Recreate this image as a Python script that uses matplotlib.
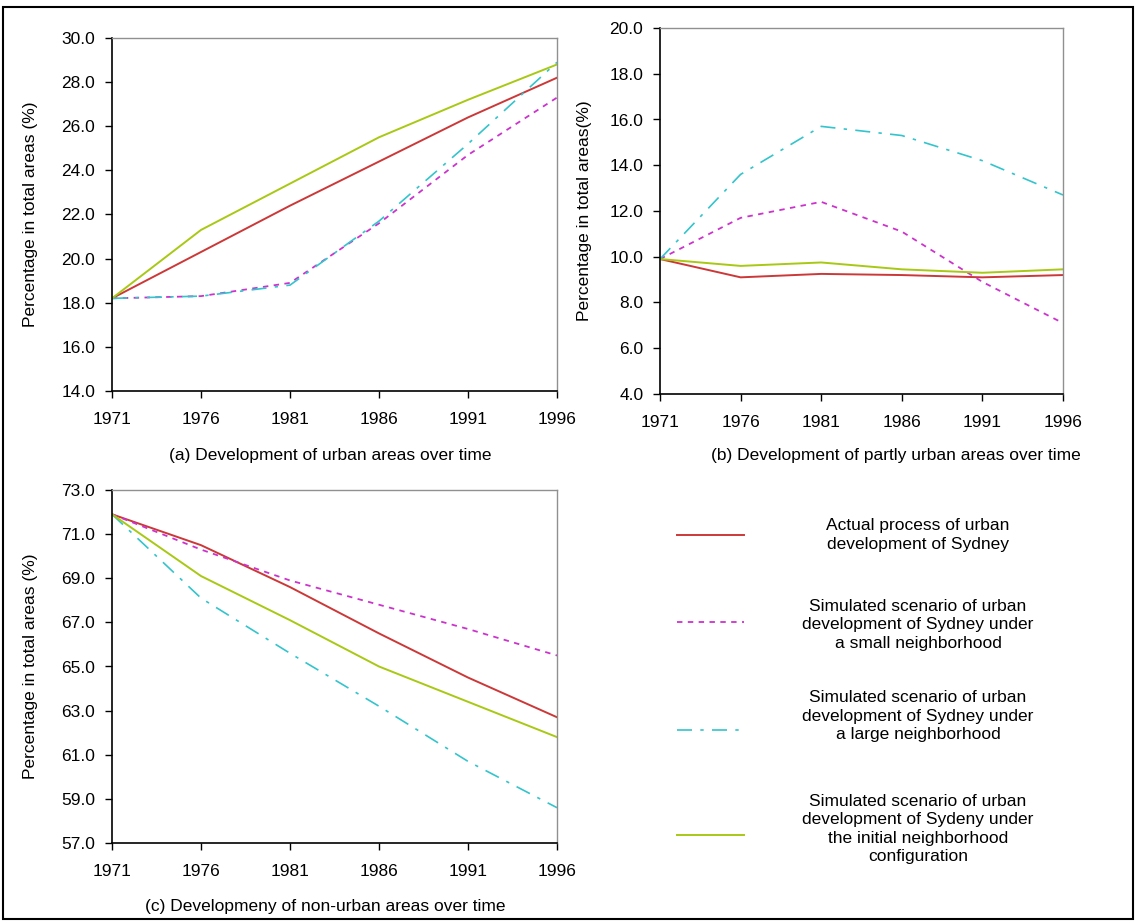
import matplotlib
matplotlib.use("Agg")
import matplotlib.pyplot as plt
from matplotlib.lines import Line2D
from matplotlib.patches import Rectangle

plt.rcParams['font.family'] = ['Liberation Sans', 'DejaVu Sans']

# Data
years = [1971, 1976, 1981, 1986, 1991, 1996]

# (a) urban areas
urban_actual = [18.2, 20.3, 22.4, 24.4, 26.4, 28.2]
urban_small = [18.2, 18.3, 18.9, 21.6, 24.7, 27.3]
urban_large = [18.2, 18.3, 18.8, 21.7, 25.2, 28.9]
urban_init = [18.2, 21.3, 23.4, 25.5, 27.2, 28.8]

# (b) partly urban areas
partly_actual = [9.9, 9.1, 9.25, 9.2, 9.1, 9.2]
partly_small = [9.9, 11.7, 12.4, 11.1, 8.9, 7.1]
partly_large = [9.9, 13.6, 15.7, 15.3, 14.2, 12.7]
partly_init = [9.9, 9.6, 9.75, 9.45, 9.3, 9.45]

# (c) non-urban areas
non_actual = [71.9, 70.5, 68.6, 66.5, 64.5, 62.7]
non_small = [71.9, 70.3, 68.9, 67.8, 66.7, 65.5]
non_large = [71.9, 68.1, 65.6, 63.2, 60.7, 58.6]
non_init = [71.9, 69.1, 67.1, 65.0, 63.4, 61.8]

legend_labels = [
    "Actual process of urban\ndevelopment of Sydney",
    "Simulated scenario of urban\ndevelopment of Sydney under\na small neighborhood",
    "Simulated scenario of urban\ndevelopment of Sydney under\na large neighborhood",
    "Simulated scenario of urban\ndevelopment of Sydeny under\nthe initial neighborhood\nconfiguration",
]

# Styles
red = '#cc3838'
magenta = '#cc33cc'
cyan = '#33c4cc'
green = '#a8c814'
styles = [
    dict(color=red, lw=1.4, ls='-'),
    dict(color=magenta, lw=1.3, ls=(0, (3, 3))),
    dict(color=cyan, lw=1.2, ls=(0, (9, 5, 2, 5))),
    dict(color=green, lw=1.4, ls='-'),
]

FS = 12.5
W, H = 1136, 921
fig = plt.figure(figsize=(W / 100, H / 100), dpi=100)


def px_axes(left, top, right, bottom):
    return fig.add_axes([left / W, 1 - bottom / H, (right - left) / W, (bottom - top) / H])


def style_axes(ax, ylim, yticks, ylabel, label_x):
    ax.set_xlim(1971, 1996)
    ax.set_xticks(years)
    ax.set_xticklabels([str(y) for y in years])
    ax.set_ylim(*ylim)
    ax.set_yticks(yticks)
    ax.set_yticklabels(['%.1f' % v for v in yticks])
    ax.tick_params(direction='out', length=5, width=1, labelsize=FS, colors='black')
    ax.tick_params(axis='x', pad=10)
    ax.tick_params(axis='y', pad=7)
    for s in ['top', 'right']:
        ax.spines[s].set_color('#909090')
        ax.spines[s].set_linewidth(1)
    for s in ['left', 'bottom']:
        ax.spines[s].set_color('black')
        ax.spines[s].set_linewidth(1.2)
    ax.set_ylabel(ylabel, fontsize=FS)
    ax.yaxis.set_label_coords(label_x, 0.5)


ax_a = px_axes(112, 38, 557, 391)
for vals, st in zip([urban_actual, urban_small, urban_large, urban_init], styles):
    ax_a.plot(years, vals, **st)
style_axes(ax_a, (14, 30), list(range(14, 31, 2)), "Percentage in total areas (%)", -0.166)

ax_b = px_axes(660, 28, 1063, 394)
for vals, st in zip([partly_actual, partly_small, partly_large, partly_init], styles):
    ax_b.plot(years, vals, **st)
style_axes(ax_b, (4, 20), list(range(4, 21, 2)), "Percentage in total areas(%)", -0.168)

ax_c = px_axes(112, 490, 557, 843)
for vals, st in zip([non_actual, non_small, non_large, non_init], styles):
    ax_c.plot(years, vals, **st)
style_axes(ax_c, (57, 73), list(range(57, 74, 2)), "Percentage in total areas (%)", -0.166)

# Captions
fig.text(330 / W, 1 - 455 / H, "(a) Development of urban areas over time",
         ha='center', va='center', fontsize=FS)
fig.text(896 / W, 1 - 455 / H, "(b) Development of partly urban areas over time",
         ha='center', va='center', fontsize=FS)
fig.text(325 / W, 1 - 906 / H, "(c) Developmeny of non-urban areas over time",
         ha='center', va='center', fontsize=FS)

# Legend (manual)
swatch_y = [535, 622, 730, 835]
text_y = [535, 625, 716, 829]
for st, ly, ty, lab in zip(styles, swatch_y, text_y, legend_labels):
    fig.add_artist(Line2D([677 / W, 744 / W], [1 - ly / H, 1 - ly / H], transform=fig.transFigure, **st))
    fig.text(918 / W, 1 - ty / H, lab, ha='center', va='center', fontsize=FS,
             multialignment='center', linespacing=1.3)

# Outer border
fig.add_artist(Rectangle((3 / W, 1 - 919 / H), 1130 / W, 912 / H, transform=fig.transFigure,
                         fill=False, edgecolor='black', lw=1.5))

fig.savefig('out.png', dpi=100)
